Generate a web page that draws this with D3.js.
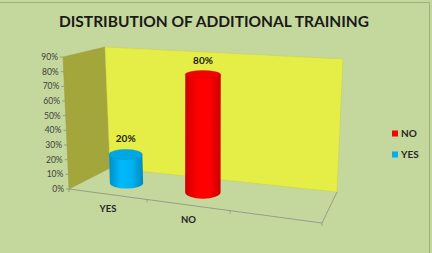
<!DOCTYPE html>
<html>
<head>
<meta charset="utf-8">
<script src="https://cdn.jsdelivr.net/npm/d3@7"></script>
<style>
  body { margin: 0; background: #c4d79c; }
  svg { display: block; }
</style>
</head>
<body>
<svg></svg>
<script>
var categories = ["YES", "NO", ""];
var percentValues = [20, 80, null];
var barColors = ["#00b0f0", "#ff0000", null];
var legendNames = ["NO", "YES"];
var legendColors = ["#ff0000", "#00b0f0"];
var yTicks = [0, 10, 20, 30, 40, 50, 60, 70, 80, 90];

start();

function start(){
  var width = 432, height = 253;

  var svg = d3.select("svg")
              .attr("width", width)
              .attr("height", height)
              .style("font-family", "Lato, 'Open Sans', sans-serif");

  svg.append("rect")
     .attr("width", width).attr("height", height)
     .attr("fill", "#c4d79c");
  svg.append("path")
     .attr("d", "M0,2.5H429.5V253")
     .attr("fill", "none")
     .attr("stroke", "#9bb27a")
     .attr("stroke-width", 1);

  // fake perspective: category position on front and back edges
  var frontX = d3.scaleLinear().domain([0, 1, 2, 3]).range([69, 147, 230, 322]);
  var frac = d3.scaleLinear().domain([69, 322]).range([0, 1]);
  var backX = d3.scaleLinear().domain([0, 1]).range([110, 337]);
  var frontBottom = d3.scaleLinear().domain([0, 1]).range([189, 223]);
  var backBottom = d3.scaleLinear().domain([0, 1]).range([168, 192]);
  var frontH = d3.scaleLinear().domain([0, 1]).range([132, 145]);
  var backH = d3.scaleLinear().domain([0, 1]).range([121, 133]);
  var frontLean = d3.scaleLinear().domain([0, 1]).range([-6, 7]);
  var backLean = d3.scaleLinear().domain([0, 1]).range([-5, 6]);
  var y = d3.scaleLinear().domain([0, 90]).range([0, 1]);

  function P(c, v, w){
    var f = frac(frontX(c));
    var fx = frontX(c) + frontLean(f) * y(v);
    var fy = frontBottom(f) - frontH(f) * y(v);
    var bx = backX(f) + backLean(f) * y(v);
    var by = backBottom(f) - backH(f) * y(v);
    return [fx + (bx - fx) * w, fy + (by - fy) * w];
  }
  function poly(pts){ return "M" + pts.map(function(p){ return p.join(","); }).join("L") + "Z"; }

  var defs = svg.append("defs");

  // walls
  svg.append("path")
     .attr("d", poly([P(0, 0, 0), P(0, 90, 0), P(0, 90, 1), P(0, 0, 1)]))
     .attr("fill", "#a2a63b")
     .attr("stroke", "#9a9d48").attr("stroke-width", 0.5);
  svg.append("path")
     .attr("d", poly([P(0, 0, 1), P(0, 90, 1), P(3, 90, 1), P(3, 0, 1)]))
     .attr("fill", "#e5ee46")
     .attr("stroke", "#c8cf4a").attr("stroke-width", 0.5);

  // floor edges
  svg.append("path")
     .attr("d", "M" + [P(0, 0, 0), P(3, 0, 0), P(3, 0, 1)].map(function(p){ return p.join(","); }).join("L"))
     .attr("fill", "none")
     .attr("stroke", "#8c8f80").attr("stroke-width", 0.8);

  // x ticks
  [0, 1, 2, 3].forEach(function(c){
    var p = P(c, 0, 0);
    svg.append("line")
       .attr("x1", p[0]).attr("y1", p[1])
       .attr("x2", p[0]).attr("y2", p[1] + 3)
       .attr("stroke", "#8c8f80").attr("stroke-width", 0.8);
  });

  // y axis labels + ticks
  yTicks.forEach(function(t){
    var p = P(0, t, 0);
    svg.append("line")
       .attr("x1", p[0] - 3).attr("y1", p[1])
       .attr("x2", p[0]).attr("y2", p[1])
       .attr("stroke", "#8c8f80").attr("stroke-width", 0.8);
    svg.append("text")
       .attr("x", p[0] - 5).attr("y", p[1])
       .attr("dy", "0.35em")
       .attr("text-anchor", "end")
       .attr("font-size", 8.5)
       .attr("fill", "#404040")
       .text(t + "%");
  });

  // category labels
  categories.forEach(function(c, i){
    var p = P(i + 0.5, 0, 0);
    svg.append("text")
       .attr("x", p[0]).attr("y", p[1] + 18)
       .attr("text-anchor", "middle")
       .attr("font-size", 9.5)
       .attr("font-weight", "bold")
       .attr("fill", "#262626")
       .text(c);
  });

  // cylinders
  percentValues.forEach(function(v, i){
    if (v == null) return;
    var col = d3.color(barColors[i]);
    var gid = "g" + i;
    var g = defs.append("linearGradient").attr("id", gid)
                .attr("x1", 0).attr("x2", 1).attr("y1", 0).attr("y2", 0);
    g.append("stop").attr("offset", 0).attr("stop-color", col.darker(0.6));
    g.append("stop").attr("offset", 0.35).attr("stop-color", col.brighter(0.15));
    g.append("stop").attr("offset", 0.7).attr("stop-color", col);
    g.append("stop").attr("offset", 1).attr("stop-color", col.darker(0.7));

    var c = i + 0.5;
    var b = P(c, 0, 0.5), t = P(c, v, 0.5);
    var slot = (P(i + 1, 0, 0.5)[0] - P(i, 0, 0.5)[0]);
    var rx = slot * 0.225;
    var ryB = (P(c, 0, 0.25)[1] - P(c, 0, 0.75)[1]) / 2;
    var ryT = (P(c, v, 0.25)[1] - P(c, v, 0.75)[1]) / 2;

    svg.append("path")
       .attr("d", "M" + (t[0] - rx) + "," + t[1] +
                  "L" + (b[0] - rx) + "," + b[1] +
                  "A" + rx + "," + ryB + " 0 0 0 " + (b[0] + rx) + "," + b[1] +
                  "L" + (t[0] + rx) + "," + t[1] + "Z")
       .attr("fill", "url(#" + gid + ")");
    svg.append("ellipse")
       .attr("cx", t[0]).attr("cy", t[1])
       .attr("rx", rx).attr("ry", ryT)
       .attr("fill", col.darker(0.15))
       .attr("stroke", col.darker(0.5)).attr("stroke-width", 0.4);

    svg.append("text")
       .attr("x", t[0]).attr("y", t[1] - ryT - 7)
       .attr("text-anchor", "middle")
       .attr("font-size", 10)
       .attr("font-weight", "bold")
       .attr("fill", "#1a1a1a")
       .text(v + "%");
  });

  // legend
  legendNames.forEach(function(n, i){
    svg.append("rect")
       .attr("x", 392).attr("y", 130.5 + i * 21)
       .attr("width", 6).attr("height", 6)
       .attr("fill", legendColors[i]);
    svg.append("text")
       .attr("x", 401).attr("y", 133.5 + i * 21)
       .attr("dy", "0.35em")
       .attr("font-size", 10)
       .attr("font-weight", "bold")
       .attr("fill", "#262626")
       .text(n);
  });

  // title
  svg.append("text")
     .attr("x", 214).attr("y", 27)
     .attr("text-anchor", "middle")
     .attr("font-size", 15.5)
     .attr("font-weight", "bold")
     .attr("fill", "#1a1a1a")
     .text("DISTRIBUTION OF ADDITIONAL TRAINING");
}
</script>
</body>
</html>
